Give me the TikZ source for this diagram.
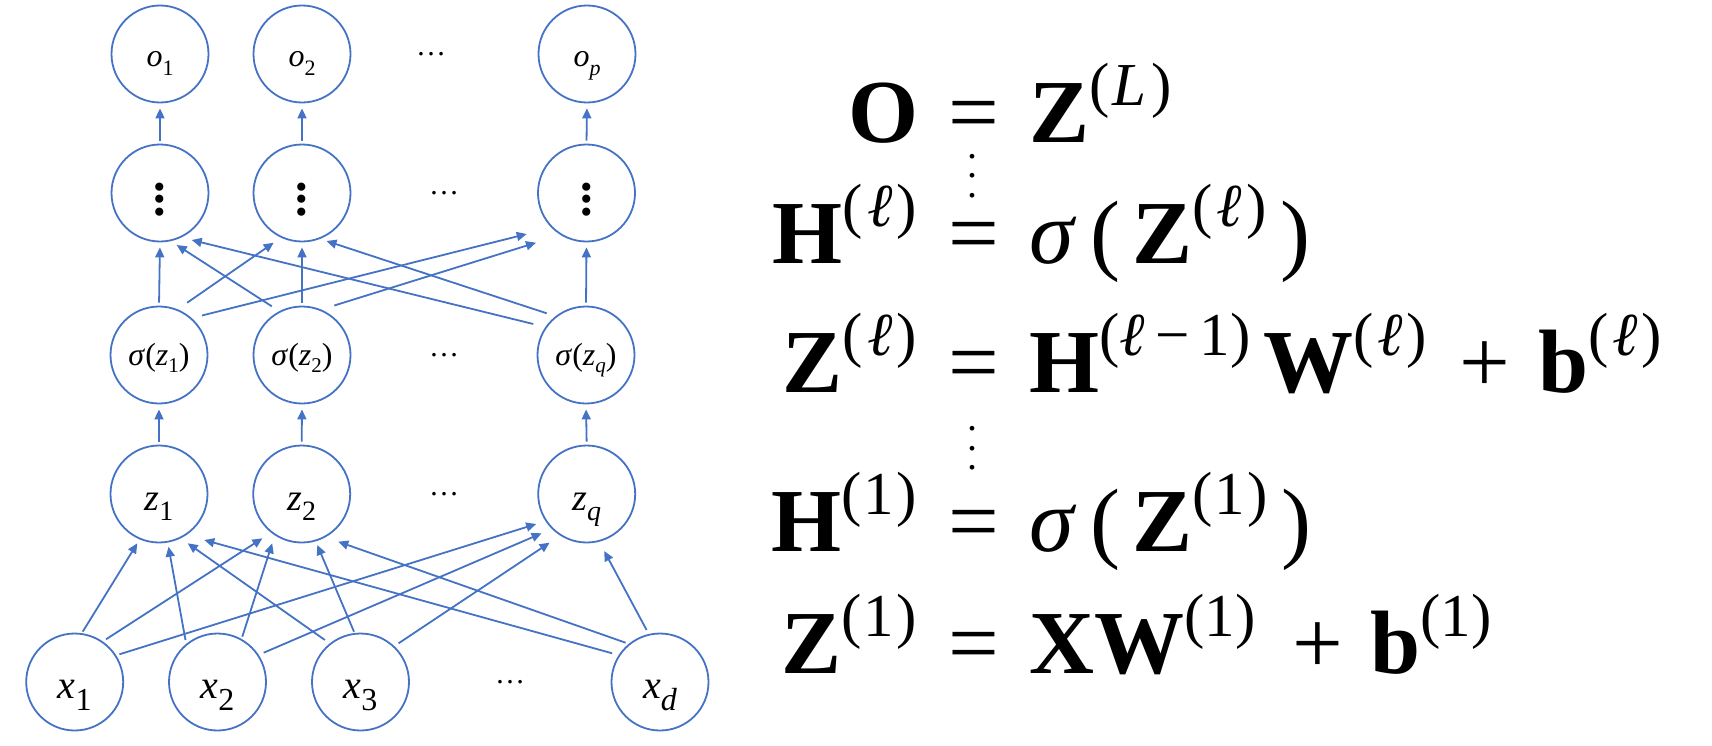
\documentclass[tikz,border=0pt]{standalone}
\usepackage{fontspec}
\setmainfont{LiberationSerif}[Extension=.ttf, UprightFont=*-Regular, BoldFont=*-Bold, ItalicFont=*-Italic, BoldItalicFont=*-BoldItalic]
\usetikzlibrary{arrows.meta,calc}
\definecolor{nnblue}{HTML}{4472C4}
\newcommand\supx[1]{\raisebox{37pt}{\fontsize{61}{61}\selectfont #1}}
\newcommand\subx[3]{\raisebox{-#1}{\fontsize{#2}{#2}\selectfont #3}}
\newcommand\ellx{\hspace{4pt}\textit{ℓ}\hspace{4pt}}
\newcommand\dotstack[3]{\vbox{\fontsize{#1}{#2}\selectfont\baselineskip=#2\lineskiplimit=0pt\relax\hbox{#3}\hbox{#3}\hbox{#3}}}
\begin{document}
\begin{tikzpicture}[x=1pt,y=-1pt,
  neuron/.style={circle, draw=nnblue, line width=1.8pt, minimum size=97pt, inner sep=0pt, text depth=0pt},
  orow/.style={neuron, font=\fontsize{32}{32}\selectfont, text height=25.4pt},
  drow/.style={neuron, text height=44.4pt},
  srow/.style={neuron, font=\fontsize{32}{32}\selectfont, text height=20pt},
  zrow/.style={neuron, font=\fontsize{38}{38}\selectfont, text height=32pt},
  xrow/.style={neuron, font=\fontsize{40}{40}\selectfont, text height=32.6pt},
  hdots/.style={inner sep=0pt, font=\fontsize{30}{30}\selectfont},
  edge/.style={draw=nnblue, line width=1.8pt, -{Triangle[length=10pt,width=9pt]}},
  vedge/.style={edge, shorten <=3pt, shorten >=5pt},
  eq/.style={inner sep=0pt, font=\fontsize{90}{90}\selectfont},
  vd/.style={inner sep=0pt}
]
\useasboundingbox (0,0) rectangle (1712,745);

% output row
\node[orow] (o1) at (160,54) {\textit{o}\subx{9pt}{22}{1}};
\node[orow] (o2) at (302,54) {\textit{o}\subx{9pt}{22}{2}};
\node[orow] (op) at (587,54) {\textit{o}\subx{9pt}{22}{\textit{p}}};
\node[hdots] (od) at (431,54) {…};

% hidden dots row
\node[drow] (d1) at (160,193) {\dotstack{50pt}{12.5pt}{\textbf{.}}};
\node[drow] (d2) at (302,193) {\dotstack{50pt}{12.5pt}{\textbf{.}}};
\node[drow] (dq) at (586.5,193) {\dotstack{50pt}{12.5pt}{\textbf{.}}};
\node[hdots] (dd) at (444,193) {…};

% sigma row
\node[srow] (s1) at (159,355) {\textit{σ}(\textit{z}\subx{7pt}{21}{1})};
\node[srow] (s2) at (302,355) {\textit{σ}(\textit{z}\subx{7pt}{21}{2})};
\node[srow] (sq) at (586,355) {\textit{σ}(\textit{z}\subx{7pt}{21}{\textit{q}})};
\node[hdots] (sd) at (444,355) {…};

% z row
\node[zrow] (z1) at (159,494) {\textit{z}\subx{10pt}{28}{1}};
\node[zrow] (z2) at (301.7,494) {\textit{z}\subx{10pt}{28}{2}};
\node[zrow] (zq) at (586.7,494) {\textit{z}\subx{10pt}{28}{\textit{q}}};
\node[hdots] (zd) at (444,494) {…};

% input row
\node[xrow] (x1) at (74.7,682) {\textit{x}\subx{12pt}{32}{1}};
\node[xrow] (x2) at (217.5,682) {\textit{x}\subx{12pt}{32}{2}};
\node[xrow] (x3) at (360.5,682) {\textit{x}\subx{12pt}{32}{3}};
\node[xrow] (xd) at (660,682) {\textit{x}\subx{12pt}{32}{\textit{d}}};
\node[hdots] (xdd) at (510,682) {…};

% vertical edges
\foreach \a/\b in {d1/o1, d2/o2, dq/op, s1/d1, s2/d2, sq/dq, z1/s1, z2/s2, zq/sq}
  \draw[vedge] (\a.north) -- (\b.south);

% sigma -> dots cross edges
\draw[edge] ($(s1)+(28.2,-52.3)$) -- ($(d2)+(-28.3,49.7)$);
\draw[edge] ($(s1)+(43,-39.5)$) -- ($(dq)+(-59.8,41)$);
\draw[edge] ($(s2)+(-30.2,-48.7)$) -- ($(d1)+(16.7,52)$);
\draw[edge] ($(s2)+(32.3,-49.5)$) -- ($(dq)+(-50.5,49.7)$);
\draw[edge] ($(sq)+(-52.7,-31)$) -- ($(d1)+(31.7,47)$);
\draw[edge] ($(sq)+(-39.3,-41.7)$) -- ($(d2)+(24.5,48)$);

% input -> z edges
\draw[edge] ($(x1)+(8,-50.3)$) -- ($(z1)+(-21.7,49.3)$);
\draw[edge] ($(x1)+(31.3,-42.7)$) -- ($(z2)+(-39.3,44.3)$);
\draw[edge] ($(x1)+(44.7,-27.7)$) -- ($(zq)+(-50.5,30)$);
\draw[edge] ($(x2)+(-32,-42)$) -- ($(z1)+(9.5,52.7)$);
\draw[edge] ($(x2)+(24.8,-45.3)$) -- ($(z2)+(-29.5,49.3)$);
\draw[edge] ($(x2)+(46.2,-29.3)$) -- ($(zq)+(-45.1,39.3)$);
\draw[edge] ($(x3)+(-35.6,-42)$) -- ($(z1)+(28.7,49.3)$);
\draw[edge] ($(x3)+(-6.5,-50.3)$) -- ($(z2)+(15.6,51)$);
\draw[edge] ($(x3)+(38.1,-38.7)$) -- ($(zq)+(-37.1,48.7)$);
\draw[edge] ($(xd)+(-47.8,-28.7)$) -- ($(z1)+(45.3,46)$);
\draw[edge] ($(xd)+(-34.4,-39.3)$) -- ($(z2)+(36.6,47.7)$);
\draw[edge] ($(xd)+(-13.4,-52)$) -- ($(zq)+(17.5,57)$);

% equations
\node[eq, anchor=base east] (l1) at (919,142) {\textbf{O}};
\node[eq, anchor=base west] (e1) at (948,142) {=};
\node[eq, anchor=base west] (r1) at (1029,142) {\textbf{Z}\supx{(\hspace{3pt}\textit{L}\hspace{5pt})}};
\node[vd] (v1) at (972.3,176) {\dotstack{40pt}{19.5pt}{.}};

\node[eq, anchor=base east] (l2) at (917,263) {\textbf{H}\supx{(\ellx)}};
\node[eq, anchor=base west] (e2) at (948,263) {=};
\node[eq, anchor=base west] (r2) at (1029,263) {\textit{σ}\hspace{14pt}(\hspace{12pt}\textbf{Z}\supx{(\ellx)}\hspace{14pt})};

\node[eq, anchor=base east] (l3) at (917,392.7) {\textbf{Z}\supx{(\ellx)}};
\node[eq, anchor=base west] (e3) at (948,392.7) {=};
\node[eq, anchor=base west] (r3a) at (1029,392.7) {\textbf{H}\supx{(\textit{ℓ}\,−\,1)}};
\node[eq, anchor=base west] (r3b) at (1263,392.7) {\textbf{W}\supx{(\ellx)}};
\node[eq, anchor=base west] (r3c) at (1459,392.7) {+};
\node[eq, anchor=base west] (r3d) at (1538,392.7) {\textbf{b}\supx{(\ellx)}};
\node[vd] (v2) at (972.3,448.3) {\dotstack{40pt}{19.5pt}{.}};

\node[eq, anchor=base east] (l4) at (917,551) {\textbf{H}\supx{(\hspace{2pt}1\hspace{2pt})}};
\node[eq, anchor=base west] (e4) at (948,551) {=};
\node[eq, anchor=base west] (r4) at (1029,551) {\textit{σ}\hspace{14pt}(\hspace{12pt}\textbf{Z}\supx{(\hspace{2pt}1\hspace{2pt})}\hspace{14pt})};

\node[eq, anchor=base east] (l5) at (917,673) {\textbf{Z}\supx{(\hspace{2pt}1\hspace{2pt})}};
\node[eq, anchor=base west] (e5) at (948,673) {=};
\node[eq, anchor=base west] (r5a) at (1029,673) {\textbf{XW}\supx{(1)}};
\node[eq, anchor=base west] (r5b) at (1292,673) {+};
\node[eq, anchor=base west] (r5c) at (1370,673) {\textbf{b}\supx{(1)}};
\end{tikzpicture}
\end{document}
